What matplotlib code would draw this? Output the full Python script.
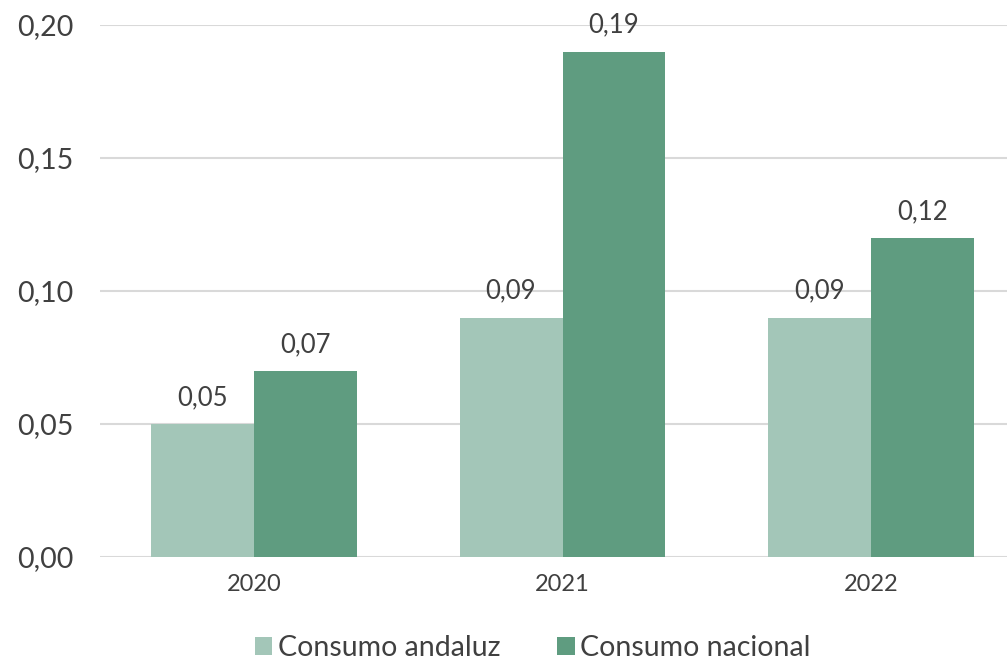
from matplotlib import pyplot as plt
import numpy as np

years = ['2020', '2021', '2022']
andaluz = [0.05, 0.09, 0.09]
nacional = [0.07, 0.19, 0.12]
yticks = [0.00, 0.05, 0.10, 0.15, 0.20]

c_light = '#A3C6B8'
c_dark = '#5F9C80'
txt = '#404040'

plt.rcParams['font.family'] = ['Lato', 'DejaVu Sans']

fig = plt.figure(figsize=[10.07, 6.63], dpi=100)
ax = fig.add_axes([100 / 1007, 106 / 663, 925 / 1007, 532 / 663])

x = np.arange(len(years))
w = 0.334
b1 = ax.bar(x - w / 2, andaluz, w, color=c_light, label='Consumo andaluz', zorder=3)
b2 = ax.bar(x + w / 2, nacional, w, color=c_dark, label='Consumo nacional', zorder=3)

# value labels above each bar
for bars, vals in [(b1, andaluz), (b2, nacional)]:
    for r, v in zip(bars, vals):
        ax.annotate(f'{v:.2f}'.replace('.', ','), (r.get_x() + r.get_width() / 2, v),
                    xytext=(0, 10), textcoords='offset points', ha='center', va='bottom',
                    fontsize=18.5, color=txt)

ax.set_xlim(-0.5, 2.5)
ax.set_ylim(0, 0.20)
ax.set_yticks(yticks)
ax.set_yticklabels([f'{t:.2f}'.replace('.', ',') for t in yticks])
ax.set_xticks(x)
ax.set_xticklabels(years)
ax.tick_params(axis='y', length=0, pad=19, labelsize=20.5, labelcolor=txt)
ax.tick_params(axis='x', length=0, pad=12, labelsize=17, labelcolor=txt)
ax.grid(axis='y', color='#D9D9D9', linewidth=1.5, zorder=0)
for s in ax.spines.values():
    s.set_visible(False)

fig.legend(handles=[b1, b2], loc='center', bbox_to_anchor=(533 / 1007, 1 - 648 / 663),
           ncol=2, frameon=False, fontsize=20.5, handlelength=0.6, handleheight=0.6,
           handletextpad=0.2, columnspacing=2.0, labelcolor=txt)

plt.savefig('out.png', dpi=100)
